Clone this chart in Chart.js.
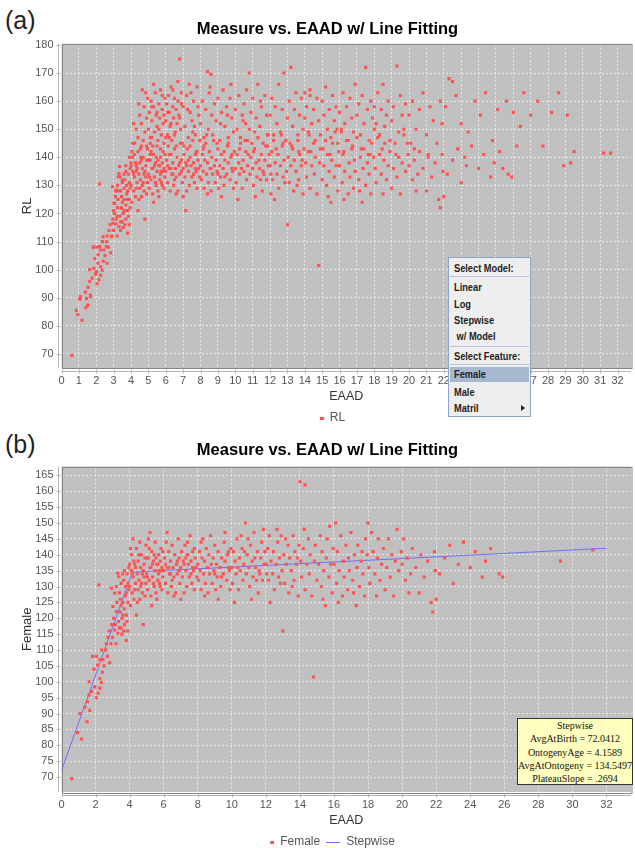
<!DOCTYPE html>
<html>
<head>
<meta charset="utf-8">
<script src="https://cdn.jsdelivr.net/npm/chart.js@4.4.1/dist/chart.umd.min.js"></script>
<style>
  body { margin: 0; width: 635px; height: 848px; overflow: hidden; background: #fff; position: relative;
         font-family: 'Liberation Sans', Arial, sans-serif; }
  .wrap { position: absolute; left: 0; width: 635px; }
  .tag { position: absolute; left: 5px; font-size: 25px; color: #222; line-height: 28px; }
  .menu { position: absolute; left: 448px; top: 257px; width: 83px; height: 160px; background: #eeeeee;
          border: 1px solid #8ea5c8; box-sizing: border-box;
          font-family: 'Liberation Sans', Arial, sans-serif; font-weight: bold; font-size: 11px; color: #222; }
  .menu div { position: absolute; left: 5px; height: 16px; line-height: 16px; white-space: nowrap;
              transform: scaleX(0.84); transform-origin: 0 50%; }
  .menu .sep { left: 1px; right: 1px; height: 0; border-top: 1px solid #b8c6dc; transform: none; }
  .menu .sel { left: 1px; right: 1px; background: #a6b8cf; height: 15px; transform: none; }
  .menu .arrow { left: auto; right: 5px; width: 0; height: 0; border-left: 4px solid #222; border-top: 3px solid transparent;
                 border-bottom: 3px solid transparent; transform: none; }
  .note { position: absolute; left: 517px; top: 718px; width: 116px; height: 67px; box-sizing: border-box;
          background: #ffffc0; border: 1px solid #333; font-family: 'Liberation Serif', 'Times New Roman', serif;
          font-size: 10px; line-height: 13.3px; text-align: center; color: #111; padding-top: 0; white-space: nowrap; }
</style>
</head>
<body>
<div class="tag" style="top:6px">(a)</div>
<div class="tag" style="top:430px">(b)</div>
<div class="wrap" style="top:0;height:434px"><canvas id="chartA" width="635" height="434"></canvas></div>
<div class="wrap" style="top:431px;height:427px"><canvas id="chartB" width="635" height="427"></canvas></div>

<div class="menu">
  <div style="top:2px">Select Model:</div>
  <div class="sep" style="top:18px"></div>
  <div style="top:21px">Linear</div>
  <div style="top:38px">Log</div>
  <div style="top:54px">Stepwise</div>
  <div style="top:70px">&nbsp;w/ Model</div>
  <div class="sep" style="top:88px"></div>
  <div style="top:90px">Select Feature:</div>
  <div class="sep" style="top:106px"></div>
  <div class="sel" style="top:109px"></div>
  <div style="top:108px">Female</div>
  <div style="top:126px">Male</div>
  <div style="top:142px">Matril</div>
  <div class="arrow" style="top:147px"></div>
</div>

<div class="note">
  Stepwise<br>
  AvgAtBirth = 72.0412<br>
  OntogenyAge = 4.1589<br>
  AvgAtOntogeny = 134.5497<br>
  PlateauSlope = .2694
</div>

<script>
// female measurements [EAAD, value]
const femalePts = [
  [0.6,69.5],[0.94,84],[1.18,82],[1.08,90],[1.37,92],[1.5,87.4],[1.53,93.7],[1.66,91],[1.62,95.8],[1.76,97],
  [1.62,100],[1.95,98.4],[1.91,104],[1.82,108],[2.05,95],[2.15,96.4],[2.25,98],[2.34,99.8],[2.25,101],[2.11,105.3],
  [2.05,108],[2.25,107],[2.44,107],[2.19,130.5],[2.6,110],[2.63,112],[2.83,106],[2.73,114],[2.4,103],[2.5,105],
  [2.35,110],[2.7,108],[2.9,112],[2.95,118],[2.93,129.5],[2.8,116],
  [3.02,123.7],[3.12,116.3],[3.31,115.3],[3.22,122.1],[3.22,130],[3.12,127.9],[3.31,134.2],[3.37,133.1],[3.05,120],[3.15,118],
  [3.25,125],[3.35,119],[3.4,128],[3.45,122],[3.5,117],[3.5,131],[3.55,115],[3.6,125],[3.65,132],[3.7,118],
  [3.75,127],[3.8,121],[3.85,134],[3.9,116],[3.95,129],[3.6,134],[3.8,113],[3.2,112],[3.4,117],[3.55,120],
  [3.7,123],[3.9,125],[3.45,126],[3.65,116],[3.85,119],[3.95,136],[3.75,130],[3.6,121],[3.5,124],[3.9,131],
  [3.0,114],[3.8,128],[3.7,135],
  [4.0,130],[4.05,124],[4.1,135],[4.1,140],[4.15,128],[4.2,133],[4.2,145],[4.25,126],[4.3,137],[4.35,131],
  [4.4,142],[4.4,121],[4.45,134],[4.5,129],[4.5,138],[4.55,132],[4.6,144],[4.6,126],[4.65,136],[4.7,131],
  [4.7,140],[4.75,128],[4.8,135],[4.8,118],[4.85,133],[4.9,139],[4.9,127],[4.95,143],[4.0,137],[4.3,129],
  [4.05,142],[4.25,138],[4.45,125],[4.65,130],[4.85,137],[4.15,134],[4.35,136],[4.55,140],[4.75,134],[4.95,131],
  [5.0,134],[5.05,129],[5.1,139],[5.1,145],[5.15,132],[5.2,136],[5.25,127],[5.3,141],[5.35,133],[5.4,138],
  [5.45,130],[5.5,135],[5.5,144],[5.55,128],[5.6,137],[5.65,132],[5.7,140],[5.75,135],[5.8,130],[5.85,142],
  [5.9,136],[5.95,133],[5.0,139],[5.2,147],[5.3,124],[5.4,131],[5.6,126],[5.7,134],[5.8,138],[5.9,129],
  [5.25,136],[5.45,140],[5.65,137],[5.85,135],[5.05,133],[5.15,142],[5.35,137],[5.55,139],[5.75,131],[5.95,141],
  [6.0,135],[6.05,139],[6.1,131],[6.15,144],[6.2,136],[6.25,128],[6.3,141],[6.35,134],[6.4,138],[6.45,130],
  [6.5,143],[6.55,136],[6.6,133],[6.65,140],[6.7,128],[6.75,137],[6.8,134],[6.85,145],[6.9,139],[6.95,131],
  [7.0,136],[7.05,141],[7.1,133],[7.15,138],[7.2,128],[7.25,143],[7.3,135],[7.35,130],[7.4,140],[7.45,137],
  [7.5,133],[7.55,146],[7.6,138],[7.65,131],[7.7,141],[7.75,135],[7.8,129],[7.85,139],[7.9,136],[7.95,133],
  [6.2,147],[6.6,127],[7.0,126],[7.4,144],[7.8,142],[6.4,134],[6.8,138],[7.2,137],[7.6,134],[6.1,137],
  [6.5,132],[6.9,135],[7.3,139],[7.7,136],[6.3,136],
  [8.0,137],[8.05,132],[8.1,141],[8.15,135],[8.2,129],[8.25,139],[8.3,145],[8.35,134],[8.4,138],[8.45,131],
  [8.5,142],[8.55,136],[8.6,128],[8.65,140],[8.7,134],[8.75,146],[8.8,137],[8.85,131],[8.9,139],[8.95,135],
  [9.0,143],[9.05,129],[9.1,137],[9.15,133],[9.2,141],[9.3,136],[9.35,130],[9.4,139],[9.5,134],[9.55,144],
  [9.6,138],[9.7,132],[9.75,140],[9.8,136],[9.9,129],[9.95,142],[8.2,144],[8.6,136],[9.0,134],[9.4,133],
  [9.8,141],[8.4,127],[9.2,126],[9.6,147],[9.85,135],
  [10.0,136],[10.05,131],[10.1,141],[10.2,138],[10.25,134],[10.3,145],[10.4,129],[10.45,139],[10.5,135],[10.6,142],
  [10.65,132],[10.7,137],[10.8,150],[10.85,134],[10.9,140],[11.0,136],[11.05,130],[11.1,143],[11.2,138],[11.25,133],
  [11.3,147],[11.4,136],[11.5,141],[11.55,128],[11.6,135],[11.7,139],[11.75,144],[11.8,132],[11.9,137],[11.95,141],
  [10.15,125],[10.55,146],[11.15,126],[11.45,132],[11.85,148],[10.75,141],[10.35,136],[11.65,134],[10.95,145],[11.35,139],
  [12.0,137],[12.1,142],[12.15,132],[12.2,146],[12.3,138],[12.4,134],[12.45,141],[12.5,129],[12.6,137],[12.7,144],
  [12.75,133],[12.8,139],[12.9,146],[12.95,135],[13.0,116],[13.05,140],[13.1,131],[13.2,137],[13.3,143],[13.35,128],
  [13.4,139],[13.5,135],[13.6,146],[13.65,132],[13.7,141],[13.8,137],[13.9,127],[13.95,143],[12.25,125],[12.65,148],
  [13.15,145],[13.55,130],[13.85,139],[12.05,134],[12.85,131],
  [14.0,163],[14.3,162],[14.05,138],[14.1,133],[14.2,142],[14.3,129],[14.4,137],[14.5,145],[14.55,134],[14.6,140],
  [14.7,127],[14.8,101.5],[14.85,138],[14.9,143],[15.0,132],[15.1,137],[15.2,146],[15.25,130],[15.3,141],[15.4,135],
  [15.5,124],[15.55,139],[15.6,145],[15.7,133],[15.8,137],[15.9,128],[15.95,142],[14.25,148],[15.35,126],[15.75,149],
  [16.0,137],[16.1,150],[16.15,131],[16.2,141],[16.3,135],[16.4,146],[16.5,127],[16.55,138],[16.6,133],[16.7,143],
  [16.8,129],[16.85,139],[16.9,135],[17.0,147],[17.1,132],[17.2,140],[17.3,124],[17.35,136],[17.4,143],[17.5,130],
  [17.6,138],[17.7,134],[17.8,127],[17.85,145],[17.95,140],[16.25,125],[17.15,128],[17.65,141],
  [18.0,150],[18.05,136],[18.1,131],[18.2,147],[18.3,141],[18.4,134],[18.5,127],[18.55,139],[18.6,145],[18.7,132],
  [18.8,137],[18.9,142],[19.0,129],[19.1,136],[19.2,145],[19.3,133],[19.4,140],[19.5,127],[19.6,138],[19.7,148],
  [19.8,135],[19.95,141],
  [20.0,137],[20.1,145],[20.2,132],[20.3,139],[20.5,134],[20.6,142],[20.8,136],[21.0,128],[21.1,140],[21.3,133],
  [21.5,138],[21.7,125],[21.8,122],[21.9,141],[21.95,135],[20.4,128],
  [22.0,126],[22.2,134],[22.5,139],[22.8,143],[23.0,131],[23.3,137],[23.6,144],[24.0,136],[24.3,141],[24.7,133],
  [25.2,142],[25.7,134],[25.9,133],[24.9,138],[29.3,138],[31.2,141.5]
];

// male measurements [EAAD, value], only in the RL plot
const malePts = [
  [0.85,85.5],[1.05,89.5],[1.1,90.4],[1.4,86.5],[1.44,89.7],[1.67,90.4],[1.86,100.5],[2.01,99.3],[2.1,102.3],[1.86,108.1],
  [2.2,108.2],[2.39,111.7],[2.58,108.2],[2.62,102.3],[2.87,111.7],[2.96,116.5],[3.06,123.6],[3.15,128.4],[3.27,133.1],[3.34,136.7],
  [3.0,121],[3.1,126],[3.2,119],[3.3,128],[3.4,114],[3.5,132],[3.6,129],[3.7,137],[3.8,125],[3.9,140],[3.95,122],
  [4.0,138],[4.1,145],[4.2,141],[4.3,150],[4.4,147],[4.5,155],[4.55,143],[4.6,152],[4.7,146],[4.75,158],
  [4.8,149],[4.9,154],[4.95,161],[4.3,135],[4.6,139],[4.85,163],[4.45,159],[4.15,152],[4.65,164],[4.9,144],
  [5.0,150],[5.05,156],[5.1,147],[5.15,160],[5.2,153],[5.25,144],[5.3,158],[5.35,149],[5.4,163],[5.45,155],
  [5.5,151],[5.55,146],[5.6,159],[5.65,154],[5.7,164],[5.75,148],[5.8,157],[5.85,152],[5.9,145],[5.95,161],
  [5.1,141],[5.3,166],[5.5,156],[5.7,143],[5.9,155],[5.2,158],[5.6,150],[5.8,162],
  [6.0,153],[6.05,159],[6.1,148],[6.15,162],[6.2,156],[6.25,151],[6.3,165],[6.35,146],[6.4,158],[6.45,154],
  [6.5,161],[6.55,149],[6.6,157],[6.65,152],[6.7,167],[6.75,155],[6.8,175],[6.85,150],[6.9,159],[6.95,145],
  [6.1,156],[6.3,152],[6.5,148],[6.7,160],[6.9,163],[6.2,141],[6.6,144],[6.4,164],[6.0,147],[6.8,154],
  [7.0,158],[7.1,151],[7.2,162],[7.3,147],[7.4,156],[7.5,153],[7.6,160],[7.7,148],[7.8,165],[7.9,155],
  [7.05,144],[7.25,157],[7.45,163],[7.65,151],[7.85,158],[7.15,121],[7.55,149],[7.95,146],[7.35,166],[7.75,142],
  [8.0,152],[8.1,160],[8.2,147],[8.3,157],[8.4,170.5],[8.45,150],[8.5,163],[8.6,169.5],[8.65,155],[8.7,148],
  [8.8,159],[8.9,153],[9.0,161],[9.1,146],[9.2,156],[9.3,164],[9.4,151],[9.5,158],[9.6,145],[9.7,161],
  [9.8,154],[9.9,149],[8.15,143],[8.55,165],[8.95,145],[9.35,142],[9.75,166],[9.15,152],[9.55,155],[8.35,148],
  [10.0,157],[10.1,150],[10.2,162],[10.3,147],[10.4,155],[10.5,159],[10.6,152],[10.7,146],[10.8,170],[10.9,156],
  [11.0,161],[11.1,149],[11.2,154],[11.3,166],[11.4,151],[11.5,158],[11.6,145],[11.7,162],[11.8,155],[11.9,148],
  [10.25,143],[10.65,164],[11.05,142],[11.45,160],[11.85,144],[10.45,153],
  [12.0,155],[12.1,161],[12.2,148],[12.3,158],[12.4,152],[12.5,166],[12.6,149],[12.7,157],[12.8,170],[12.9,146],
  [13.0,154],[13.1,160],[13.2,172],[13.3,151],[13.4,157],[13.5,163],[13.6,148],[13.7,155],[13.8,161],[13.9,150],
  [12.35,143],[12.75,145],[13.25,144],[13.65,142],[12.05,127],
  [14.0,154],[14.1,158],[14.2,149],[14.3,164],[14.4,152],[14.5,157],[14.6,146],[14.7,161],[14.8,153],[14.9,148],
  [15.0,160],[15.1,155],[15.2,165],[15.3,150],[15.4,157],[15.5,147],[15.6,162],[15.7,153],[15.8,158],[15.9,145],
  [14.35,142],[15.05,143],[15.45,141],[15.85,150],
  [16.0,156],[16.1,149],[16.2,163],[16.3,152],[16.4,158],[16.5,146],[16.6,161],[16.7,154],[16.8,149],[16.9,166],
  [17.0,155],[17.1,159],[17.2,148],[17.3,162],[17.4,152],[17.5,172],[17.6,157],[17.7,146],[17.8,160],[17.9,154],
  [16.25,142],[16.75,144],[17.25,143],[17.75,141],
  [18.0,158],[18.1,152],[18.2,163],[18.3,148],[18.4,157],[18.5,166],[18.6,151],[18.7,155],[18.8,160],[18.9,146],
  [19.0,153],[19.1,158],[19.3,172.5],[19.4,149],[19.5,162],[19.6,155],[19.7,150],[19.8,159],[19.9,145],[18.45,143],[19.25,141],
  [20.0,155],[20.2,160],[20.4,150],[20.6,157],[20.8,163],[21.0,148],[21.2,158],[21.4,153],[21.6,145],[21.8,160],
  [20.3,143],[21.1,141],[21.9,152],
  [22.1,158],[22.3,168],[22.5,167],[22.7,162],[23.0,152],[23.4,149],[23.8,160],[24.1,155],[24.4,163],[24.8,146],
  [25.1,157],[25.6,160],[26.0,156],[26.2,144],[26.6,163],[27.0,155],[27.4,160],[27.7,144],[28.2,156],[28.6,163],
  [29.1,155],[29.5,142],[31.6,141.5],[25.4,136],[23.2,140],[26.4,151],[28.9,137]
];

// stepwise fit corners
const stepEaad = [0, 4.1589, 32];
const stepValue = [72.04, 134.55, 142.05];

const pointRed = '#ff5252';
const lineBlue = '#6e6eff';
const sans = "'Liberation Sans', Arial, sans-serif";
const tickFont = { family: sans, size: 11 };
const legendFont = { family: sans, size: 12 };
const axisFont = { family: sans, size: 13 };
const titleFont = { family: sans, size: 16.5, weight: 'bold', lineHeight: 1.2 };

function icon(w, h, color, x0) {
  const c = document.createElement('canvas');
  c.width = w; c.height = h;
  const g = c.getContext('2d');
  g.fillStyle = color;
  g.fillRect(x0, 0, w - x0, h);
  return c;
}
const dotIcon = icon(14, 3, pointRed, 10);
const lineIcon = icon(14, 1, lineBlue, 0);

// grey plot background, frame and offset axis lines like the java chart
const plotFrame = {
  id: 'plotFrame',
  beforeDraw(chart) {
    const { ctx, chartArea: a } = chart;
    ctx.save();
    ctx.fillStyle = '#c0c0c0';
    ctx.fillRect(a.left, a.top, a.right - a.left, a.bottom - a.top);
    ctx.restore();
  },
  beforeDatasetsDraw(chart) {
    const { ctx, chartArea: a, scales } = chart;
    ctx.save();
    ctx.strokeStyle = '#848484';
    ctx.lineWidth = 1;
    ctx.strokeRect(Math.round(a.left) + 0.5, Math.round(a.top) + 0.5, a.right - a.left, Math.round(a.bottom - a.top));
    ctx.strokeStyle = '#b4b4b4';
    ctx.beginPath();
    const ay = Math.round(a.bottom) + 3.5;
    ctx.moveTo(a.left, ay); ctx.lineTo(a.right, ay);
    scales.x.ticks.forEach(t => {
      const px = Math.round(scales.x.getPixelForValue(t.value)) + 0.5;
      ctx.moveTo(px, ay - 2); ctx.lineTo(px, ay + 2);
    });
    const ax = Math.round(a.left) - 3.5;
    ctx.moveTo(ax, a.top); ctx.lineTo(ax, a.bottom);
    scales.y.ticks.forEach(t => {
      const py = Math.round(scales.y.getPixelForValue(t.value)) + 0.5;
      ctx.moveTo(ax - 2, py); ctx.lineTo(ax + 2, py);
    });
    ctx.stroke();
    ctx.restore();
  }
};

function makeOptions(cfg) {
  return {
    responsive: false,
    animation: false,
    layout: { padding: { left: 20, right: 0, top: 0, bottom: 0 } },
    plugins: {
      title: { display: true, text: 'Measure vs. EAAD w/ Line Fitting', color: '#000', font: titleFont,
               padding: { top: cfg.titleTop, bottom: cfg.titleBottom } },
      legend: {
        position: 'bottom',
        labels: {
          usePointStyle: true, pointStyleWidth: 14, boxHeight: 6, padding: 6, color: '#555', font: legendFont,
          generateLabels(chart) {
            const items = Chart.defaults.plugins.legend.labels.generateLabels(chart);
            items.forEach(it => { it.pointStyle = chart.data.datasets[it.datasetIndex].showLine ? lineIcon : dotIcon; });
            return items;
          }
        }
      },
      tooltip: { enabled: false }
    },
    scales: {
      x: {
        type: 'linear', min: 0, max: cfg.xMax,
        afterFit(s) { s.height = 38; },
        afterBuildTicks(s) { s.ticks = s.ticks.filter(t => t.value >= 0 && t.value <= 32 && t.value % cfg.xStep === 0); },
        ticks: { stepSize: cfg.xStep, maxTicksLimit: 100, autoSkip: false, maxRotation: 0, includeBounds: false,
                 padding: 6.5, color: '#555', font: tickFont },
        grid: { color: 'rgba(238,238,238,0.85)', drawTicks: false },
        border: { display: false, dash: [2, 2] },
        title: { display: true, text: 'EAAD', color: '#333', font: { family: sans, size: 12.5 }, padding: { top: 0, bottom: 2 } }
      },
      y: {
        type: 'linear', min: cfg.yMin, max: cfg.yMax,
        afterFit(s) { s.width = 41.5; },
        afterBuildTicks(s) { s.ticks = s.ticks.filter(t => t.value >= cfg.yFirst && t.value % cfg.yStep === 0); },
        ticks: { stepSize: cfg.yStep, maxTicksLimit: 100, autoSkip: false, includeBounds: false,
                 padding: 8, color: '#555', font: tickFont },
        grid: { color: 'rgba(238,238,238,0.85)', drawTicks: false },
        border: { display: false, dash: [2, 2] },
        title: { display: true, text: cfg.yTitle, color: '#333', font: axisFont, padding: 0 }
      }
    }
  };
}

new Chart(document.getElementById('chartA'), {
  type: 'scatter',
  data: {
    datasets: [{
      label: 'RL',
      data: femalePts.concat(malePts).map(p => ({ x: p[0], y: p[1] })),
      pointStyle: 'rect', pointRadius: 2.2, borderWidth: 0,
      backgroundColor: pointRed, borderColor: pointRed
    }]
  },
  options: makeOptions({ titleTop: 20, titleBottom: 4, xMax: 32.77, xStep: 1,
                         yMin: 65, yMax: 180.4, yStep: 10, yFirst: 70, yTitle: 'RL' }),
  plugins: [plotFrame]
});

new Chart(document.getElementById('chartB'), {
  type: 'scatter',
  data: {
    datasets: [{
      label: 'Female',
      data: femalePts.map(p => ({ x: p[0], y: p[1] })),
      pointStyle: 'rect', pointRadius: 2.2, borderWidth: 0,
      backgroundColor: pointRed, borderColor: pointRed
    }, {
      label: 'Stepwise',
      data: stepEaad.map((x, i) => ({ x: x, y: stepValue[i] })),
      showLine: true, pointRadius: 0, borderWidth: 1,
      borderColor: lineBlue, backgroundColor: lineBlue
    }]
  },
  options: makeOptions({ titleTop: 10, titleBottom: 5.7, xMax: 33.44, xStep: 2,
                         yMin: 65.3, yMax: 167.8, yStep: 5, yFirst: 70, yTitle: 'Female' }),
  plugins: [plotFrame]
});
</script>
</body>
</html>
